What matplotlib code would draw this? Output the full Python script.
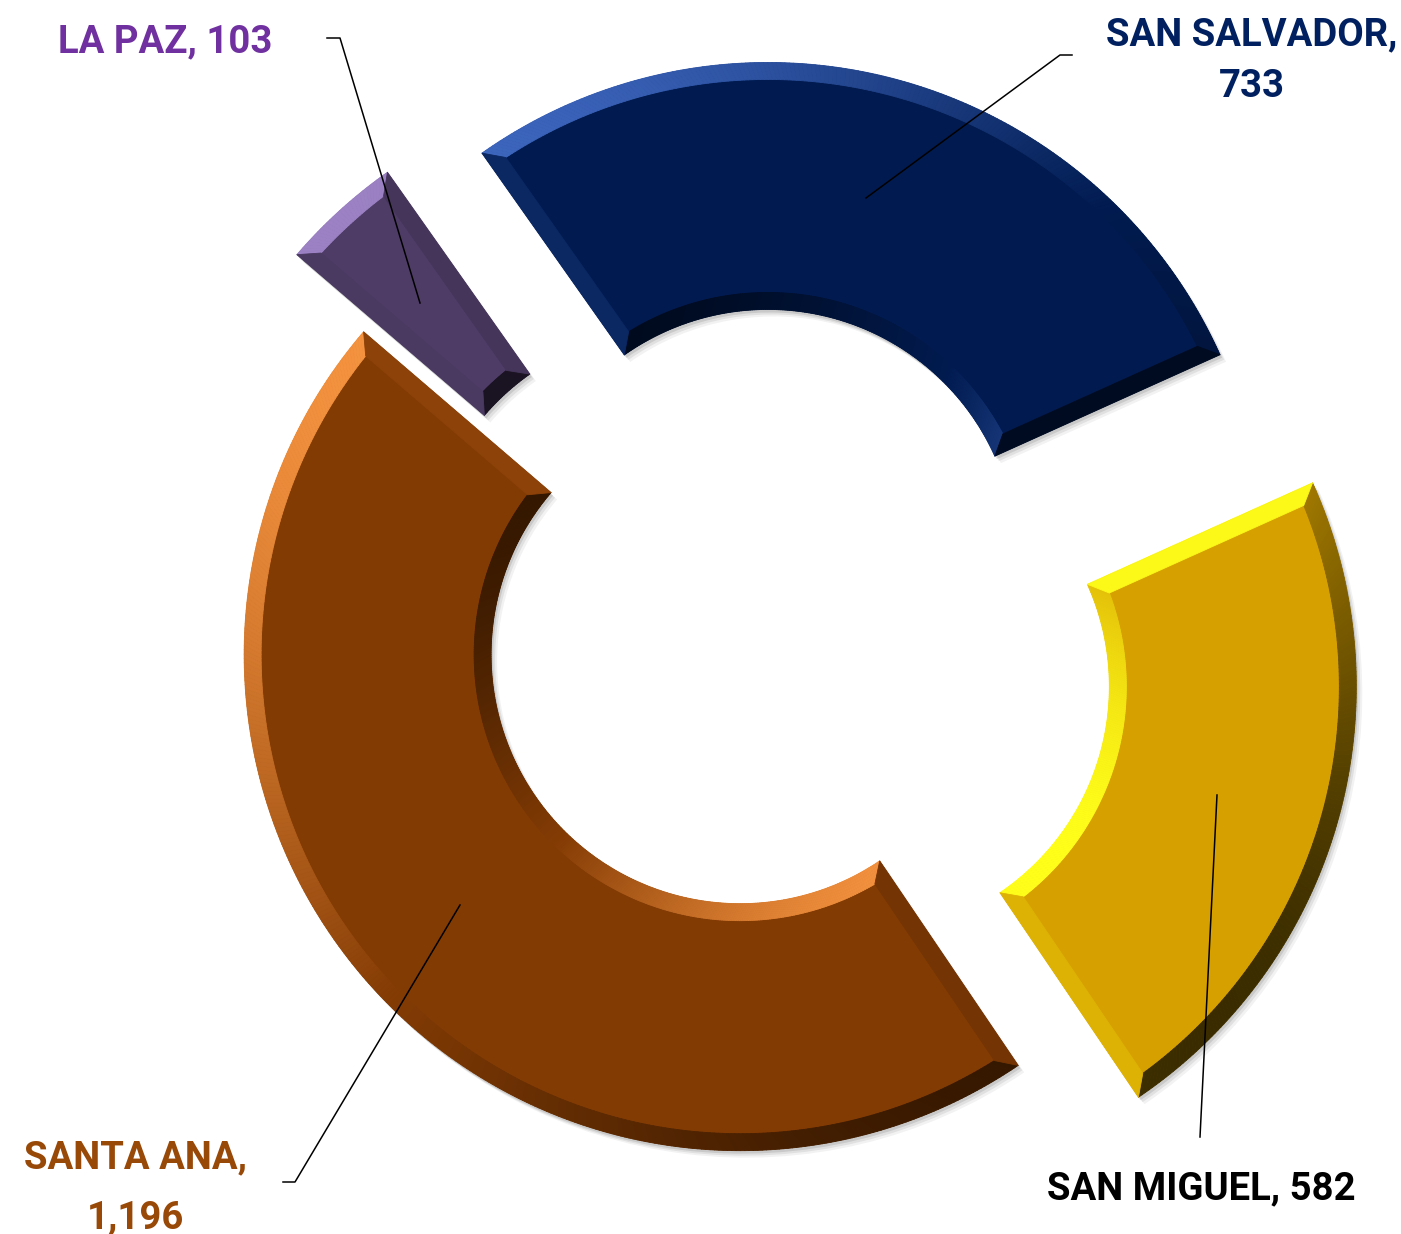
import numpy as np
import matplotlib
matplotlib.use("Agg")
import matplotlib.pyplot as plt
from matplotlib.collections import PolyCollection
from matplotlib.patches import Wedge
from matplotlib.colors import to_rgb

# ---- data ----
categories = ["SAN SALVADOR", "SAN MIGUEL", "SANTA ANA", "LA PAZ"]
values = [733, 582, 1196, 103]
value_labels = ["733", "582", "1,196", "103"]

# ---- style ----
face_colors = ["#011B50", "#D6A000", "#833B04", "#4E3C66"]
light_colors = ["#3D66BE", "#FFFF1A", "#F4923F", "#9C82C4"]
dark_colors = ["#000A1E", "#3A2C00", "#341700", "#1A1322"]
label_colors = ["#002060", "#000000", "#984807", "#7030A0"]

W, H = 1401, 1234
fig = plt.figure(figsize=(W / 100, H / 100), dpi=100)
ax = fig.add_axes([0, 0, 1, 1])

center = (742, -653)
R = 496
ring = 247
explode = [98, 123, 2.5, 102]

wedges, _ = ax.pie(values, explode=explode, center=center, radius=R,
                   startangle=125.2, counterclock=False, colors=face_colors,
                   wedgeprops=dict(width=ring, linewidth=0))

ax.set_xlim(0, W)
ax.set_ylim(-H, 0)
ax.set_aspect("equal")
ax.axis("off")

LIGHT = np.deg2rad(135)


def shade(nang, face, light, dark):
    d = np.cos(nang - LIGHT)
    f = np.array(to_rgb(face))
    if d >= 0:
        return tuple(f + (np.array(to_rgb(light)) - f) * d)
    return tuple(f + (np.array(to_rgb(dark)) - f) * (-d))


b = 17
for i, w in enumerate(wedges):
    w.set_zorder(2)
    cx, cy = w.center
    Ro = w.r
    Ri = w.r - w.width
    t1, t2 = np.deg2rad(w.theta1), np.deg2rad(w.theta2)
    # drop shadow
    for dx, dy, al in [(6, -7, 0.05), (4, -5, 0.07), (2, -3, 0.10)]:
        sh = Wedge((cx + dx, cy + dy), Ro, w.theta1, w.theta2, width=w.width,
                   facecolor="black", alpha=al, linewidth=0, zorder=1)
        ax.add_patch(sh)
    Roi, Rii = Ro - b, Ri + b
    ao, ai = np.arcsin(b / Roi), np.arcsin(b / Rii)
    polys, cols = [], []
    N = max(int(np.degrees(t2 - t1) * 2), 20)
    fc, lc, dc = face_colors[i], light_colors[i], dark_colors[i]

    def P(rad, ang):
        return (cx + rad * np.cos(ang), cy + rad * np.sin(ang))

    for k in range(N):
        fa, fb = t1 + (t2 - t1) * k / N, t1 + (t2 - t1) * (k + 1) / N
        pa = t1 + ao + (t2 - t1 - 2 * ao) * k / N
        pb = t1 + ao + (t2 - t1 - 2 * ao) * (k + 1) / N
        polys.append([P(Ro, fa), P(Ro, fb), P(Roi, pb), P(Roi, pa)])
        cols.append(shade((fa + fb) / 2, fc, lc, dc))
        qa = t1 + ai + (t2 - t1 - 2 * ai) * k / N
        qb = t1 + ai + (t2 - t1 - 2 * ai) * (k + 1) / N
        polys.append([P(Ri, fa), P(Ri, fb), P(Rii, qb), P(Rii, qa)])
        cols.append(shade((fa + fb) / 2 + np.pi, fc, lc, dc))
    polys.append([P(Ro, t1), P(Ri, t1), P(Rii, t1 + ai), P(Roi, t1 + ao)])
    cols.append(shade(t1 - np.pi / 2, fc, lc, dc))
    polys.append([P(Ro, t2), P(Ri, t2), P(Rii, t2 - ai), P(Roi, t2 - ao)])
    cols.append(shade(t2 + np.pi / 2, fc, lc, dc))
    pc = PolyCollection(polys, facecolors=cols, edgecolors=cols,
                        linewidths=0.6, zorder=3)
    ax.add_collection(pc)

# ---- labels ----
font = dict(family=["Roboto", "DejaVu Sans"], weight="bold", fontsize=27.5)
lw = 1.1
# LA PAZ
ax.plot([420, 340, 327], [-303, -38, -38], color="black", lw=lw, zorder=5)
ax.text(165, -52, f"{categories[3]}, {value_labels[3]}",
        color=label_colors[3], ha="center", va="baseline", **font)
# SAN SALVADOR
ax.plot([866, 1060, 1072], [-198, -55, -55], color="black", lw=lw, zorder=5)
ax.text(1252, -45, f"{categories[0]},", color=label_colors[0], ha="center", va="baseline", **font)
ax.text(1252, -97, value_labels[0], color=label_colors[0], ha="center", va="baseline", **font)
# SAN MIGUEL
ax.plot([1217, 1200], [-795, -1137], color="black", lw=lw, zorder=5)
ax.text(1201, -1199, f"{categories[1]}, {value_labels[1]}", color=label_colors[1],
        ha="center", va="baseline", **font)
# SANTA ANA
ax.plot([460, 295, 283], [-905, -1182, -1182], color="black", lw=lw, zorder=5)
ax.text(135, -1168, f"{categories[2]},", color=label_colors[2], ha="center", va="baseline", **font)
ax.text(135, -1228, value_labels[2], color=label_colors[2], ha="center", va="baseline", **font)

fig.savefig("out.png", dpi=100, facecolor="white")
